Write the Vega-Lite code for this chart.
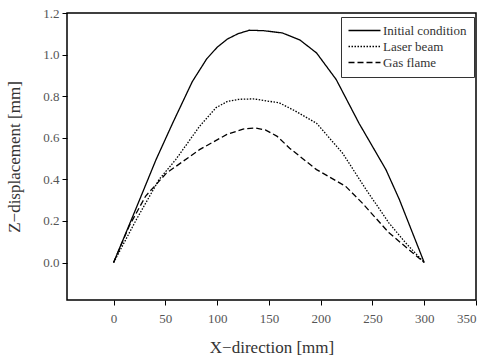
{
  "$schema": "https://vega.github.io/schema/vega-lite/v6.json",
  "width": 409,
  "height": 287,
  "autosize": "none",
  "padding": {"left": 67, "top": 13, "right": 13, "bottom": 59},
  "config": {
    "view": {"stroke": "black", "strokeWidth": 1.5},
    "font": "Liberation Serif",
    "axis": {
      "grid": false,
      "domain": false,
      "ticks": true,
      "tickColor": "black",
      "tickWidth": 1,
      "tickSize": 5,
      "labelColor": "#555",
      "labelFont": "Liberation Serif",
      "labelFontSize": 13,
      "titleFont": "Liberation Serif",
      "titleFontWeight": "normal",
      "titleFontSize": 17,
      "titleColor": "#333"
    }
  },
  "data": {
    "values": [
      {"series": "Initial condition", "x": 0, "y": 0},
      {"series": "Initial condition", "x": 20, "y": 0.24},
      {"series": "Initial condition", "x": 41, "y": 0.495},
      {"series": "Initial condition", "x": 57, "y": 0.67},
      {"series": "Initial condition", "x": 76, "y": 0.87},
      {"series": "Initial condition", "x": 90, "y": 0.98},
      {"series": "Initial condition", "x": 100, "y": 1.035},
      {"series": "Initial condition", "x": 110, "y": 1.075},
      {"series": "Initial condition", "x": 120, "y": 1.1},
      {"series": "Initial condition", "x": 131, "y": 1.117},
      {"series": "Initial condition", "x": 145, "y": 1.115},
      {"series": "Initial condition", "x": 163, "y": 1.104},
      {"series": "Initial condition", "x": 180, "y": 1.07},
      {"series": "Initial condition", "x": 196, "y": 1.008},
      {"series": "Initial condition", "x": 215, "y": 0.88},
      {"series": "Initial condition", "x": 237, "y": 0.67},
      {"series": "Initial condition", "x": 263, "y": 0.447},
      {"series": "Initial condition", "x": 276, "y": 0.303},
      {"series": "Initial condition", "x": 300, "y": 0},
      {"series": "Laser beam", "x": 0, "y": 0},
      {"series": "Laser beam", "x": 22, "y": 0.207},
      {"series": "Laser beam", "x": 44, "y": 0.4},
      {"series": "Laser beam", "x": 60, "y": 0.495},
      {"series": "Laser beam", "x": 83, "y": 0.655},
      {"series": "Laser beam", "x": 99, "y": 0.745},
      {"series": "Laser beam", "x": 110, "y": 0.775},
      {"series": "Laser beam", "x": 121, "y": 0.785},
      {"series": "Laser beam", "x": 135, "y": 0.787},
      {"series": "Laser beam", "x": 160, "y": 0.768},
      {"series": "Laser beam", "x": 175, "y": 0.73},
      {"series": "Laser beam", "x": 196, "y": 0.67},
      {"series": "Laser beam", "x": 221, "y": 0.527},
      {"series": "Laser beam", "x": 244, "y": 0.35},
      {"series": "Laser beam", "x": 266, "y": 0.19},
      {"series": "Laser beam", "x": 282, "y": 0.095},
      {"series": "Laser beam", "x": 300, "y": 0},
      {"series": "Gas flame", "x": 0, "y": 0},
      {"series": "Gas flame", "x": 15, "y": 0.175},
      {"series": "Gas flame", "x": 31, "y": 0.32},
      {"series": "Gas flame", "x": 51, "y": 0.43},
      {"series": "Gas flame", "x": 83, "y": 0.543},
      {"series": "Gas flame", "x": 109, "y": 0.615},
      {"series": "Gas flame", "x": 125, "y": 0.642},
      {"series": "Gas flame", "x": 137, "y": 0.647},
      {"series": "Gas flame", "x": 147, "y": 0.637},
      {"series": "Gas flame", "x": 158, "y": 0.607},
      {"series": "Gas flame", "x": 170, "y": 0.55},
      {"series": "Gas flame", "x": 196, "y": 0.447},
      {"series": "Gas flame", "x": 224, "y": 0.367},
      {"series": "Gas flame", "x": 240, "y": 0.287},
      {"series": "Gas flame", "x": 266, "y": 0.143},
      {"series": "Gas flame", "x": 300, "y": 0}
    ]
  },
  "mark": {"type": "line", "color": "black", "strokeWidth": 1.3},
  "encoding": {
    "x": {
      "field": "x",
      "type": "quantitative",
      "scale": {"domain": [-45, 350], "nice": false, "zero": false},
      "axis": {
        "values": [0, 50, 100, 150, 200, 250, 300, 350],
        "title": "X−direction [mm]",
        "labelPadding": 7,
        "titlePadding": 14
      }
    },
    "y": {
      "field": "y",
      "type": "quantitative",
      "scale": {"domain": [-0.18, 1.2], "nice": false, "zero": false},
      "axis": {
        "values": [0, 0.2, 0.4, 0.6, 0.8, 1.0, 1.2],
        "format": ".1f",
        "title": "Z−displacement [mm]",
        "labelPadding": 3,
        "titlePadding": 19
      }
    },
    "strokeDash": {
      "field": "series",
      "type": "nominal",
      "scale": {
        "domain": ["Initial condition", "Laser beam", "Gas flame"],
        "range": [[1, 0], [1.5, 1.5], [6, 3]]
      },
      "legend": {
        "title": null,
        "orient": "none",
        "legendX": 274,
        "legendY": 4,
        "strokeColor": "#333",
        "fillColor": "white",
        "padding": 7,
        "symbolType": "M-3.2,0H3.2",
        "symbolSize": 100,
        "symbolOffset": 10,
        "symbolFillColor": "transparent",
        "symbolStrokeColor": "black",
        "symbolStrokeWidth": 1.3,
        "labelFont": "Liberation Serif",
        "labelFontSize": 13,
        "labelColor": "#333",
        "labelOffset": 12,
        "rowPadding": 2
      }
    }
  }
}
